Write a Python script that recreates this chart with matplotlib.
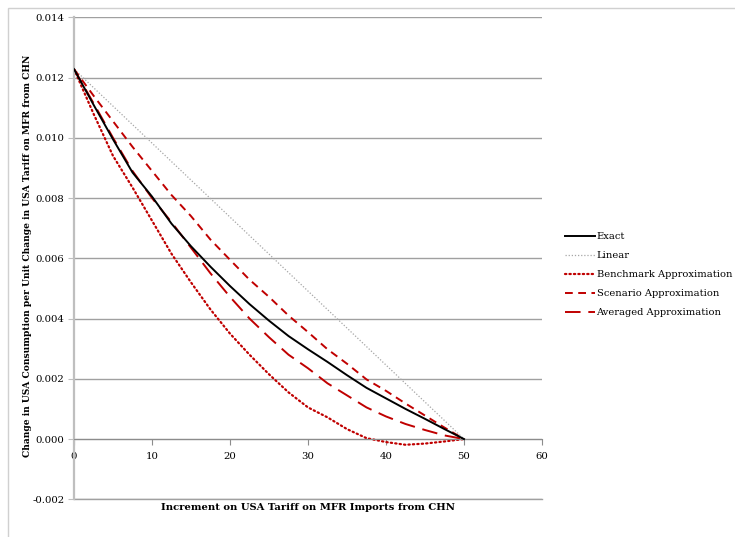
import matplotlib
matplotlib.use("Agg")
import matplotlib.pyplot as plt
from matplotlib.patches import Rectangle

# tariff increment (x) and change in consumption (y, in 1e-3 units)
tariff = [0, 2.5, 5, 7.5, 10, 12.5, 15, 17.5, 20, 22.5, 25,
          27.5, 30, 32.5, 35, 37.5, 40, 42.5, 45, 47.5, 50]
exact = [12.28, 11.1, 9.95, 8.85, 8.05, 7.15, 6.4, 5.72, 5.08, 4.48, 3.93,
         3.42, 2.98, 2.56, 2.12, 1.7, 1.35, 1.0, 0.67, 0.33, 0.0]
linear_x = [0, 50]
linear = [12.28, 0.0]
benchmark = [12.28, 10.8, 9.4, 8.35, 7.25, 6.15, 5.2, 4.3, 3.5, 2.8, 2.15,
             1.55, 1.05, 0.72, 0.33, 0.03, -0.1, -0.19, -0.15, -0.08, 0.0]
scenario = [12.28, 11.4, 10.55, 9.7, 8.9, 8.1, 7.4, 6.62, 5.95, 5.29, 4.72,
            4.1, 3.55, 2.98, 2.5, 1.98, 1.6, 1.18, 0.78, 0.38, 0.0]
averaged = [12.28, 11.15, 10.0, 8.9, 8.0, 7.2, 6.35, 5.5, 4.72, 4.0, 3.38,
            2.8, 2.35, 1.85, 1.45, 1.05, 0.75, 0.5, 0.3, 0.12, 0.0]

yticks = [-0.002, 0.0, 0.002, 0.004, 0.006, 0.008, 0.010, 0.012, 0.014]
ylabels = ["-0.002", "0.000", "0.002", "0.004", "0.006", "0.008", "0.010", "0.012", "0.014"]
xticks = [0, 10, 20, 30, 40, 50, 60]

plt.rcParams['font.family'] = ['DejaVu Serif']
plt.rcParams['font.size'] = 7

W, H = 735, 537
fig = plt.figure(figsize=(W / 100, H / 100), dpi=100)
ax = fig.add_axes([74 / W, 1 - 499.3 / H, (542 - 74) / W, (499.3 - 17.3) / H])

s = lambda v: [a / 1000 for a in v]
red = "#c00000"
ax.plot(tariff, s(exact), color="black", lw=1.4, label="Exact", zorder=5)
ax.plot(linear_x, s(linear), color="#a6a6a6", lw=0.9, ls=(0, (1, 1.5)), label="Linear")
ax.plot(tariff, s(benchmark), color=red, lw=1.6, ls=(0, (0.6, 1.4)),
        dash_capstyle="round", label="Benchmark Approximation")
ax.plot(tariff, s(scenario), color=red, lw=1.4, ls=(0, (4, 2.8)), label="Scenario Approximation")
ax.plot(tariff, s(averaged), color=red, lw=1.4, ls=(0, (8, 4)), label="Averaged Approximation")

ax.set_xlim(0, 60)
ax.set_ylim(-0.002, 0.014)
ax.set_xticks(xticks)
ax.set_yticks(yticks)
ax.set_yticklabels(ylabels)
ax.yaxis.grid(True, color="#a0a0a0", lw=1.0)
ax.axhline(-0.002, color="#a0a0a0", lw=1.0, clip_on=False, zorder=0.5)
ax.set_axisbelow(True)
for sp in ["top", "right"]:
    ax.spines[sp].set_visible(False)
ax.spines["bottom"].set_position(("data", 0))
ax.spines["bottom"].set_color("#8c8c8c")
ax.spines["left"].set_color("#bfbfbf")
ax.spines["left"].set_linewidth(1.6)
ax.tick_params(axis="x", direction="out", length=4, color="#8c8c8c", pad=5, labelsize=7.3)
ax.tick_params(axis="y", direction="out", length=4, color="#bfbfbf", pad=3, labelsize=7.3)

fig.text(308 / W, 1 - 508 / H, "Increment on USA Tariff on MFR Imports from CHN",
         ha="center", va="center", fontweight="bold", fontsize=7.2)
fig.text(28 / W, 1 - 256 / H,
         "Change in USA Consumption per Unit Change in USA Tariff on MFR from CHN",
         ha="center", va="center", rotation=90, fontweight="bold", fontsize=6.6)

fig.legend(loc="upper left", bbox_to_anchor=(565 / W, 1 - 232 / H), frameon=False,
           fontsize=7.1, handlelength=3.0, handletextpad=0.2, labelspacing=1.02,
           borderpad=0, borderaxespad=0)

fig.add_artist(Rectangle((8 / W, -0.1), 1.2, 1.1 - 8 / H, transform=fig.transFigure,
                         fill=False, edgecolor="#d0d0d0", lw=1.0))

fig.savefig("out.png", dpi=100)
